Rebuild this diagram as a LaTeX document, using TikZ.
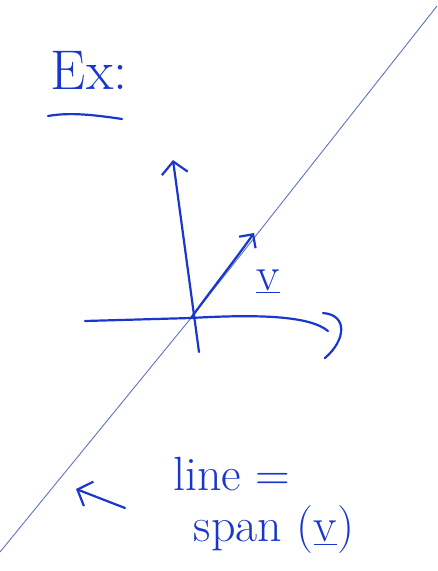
\documentclass[tikz,border=0pt]{standalone}
\usepackage{tikz}
\usetikzlibrary{arrows.meta,positioning}
\definecolor{ink}{RGB}{25,55,205}
\definecolor{pencil}{RGB}{95,115,195}
\tikzset{
  pen/.style      = {ink, line width=2.2pt, line cap=round, line join=round},
  penarrow/.style = {pen, -{Straight Barb[length=12pt,width=26pt]}},
  spanline/.style = {pencil, line width=0.9pt},
  handtext/.style = {ink, inner sep=0pt, font=\fontsize{48}{52}\selectfont}
}
\begin{document}
\begin{tikzpicture}[x=1pt,y=-1pt]
  \useasboundingbox (0,0) rectangle (437,571);
  \coordinate (O)  at (191,318);
  \coordinate (lo) at (0,552);
  \coordinate (hi) at (437,6);
  % the line spanned by v
  \draw[spanline] (lo) -- (O) -- (hi);
  % axes
  \coordinate (xl) at (85,321);
  \coordinate (yb) at (199,352);
  \coordinate (yt) at (173,160);
  \draw[pen] (xl) -- (O) .. controls (260,314) and (310,316) .. (328,331);
  \draw[pen] (323,313) .. controls (348,315) and (346,340) .. (325,358);
  \draw[penarrow] (yb) -- (yt);
  % the vector v
  \coordinate (vt) at (254,233);
  \draw[pen, -{Straight Barb[length=10pt,width=20pt]}] (O) .. controls (215,285) and (235,260) .. (vt);
  \node[handtext] (vlab) at (268,281) {\underline{v}};
  % heading
  \node[handtext, font=\fontsize{56}{60}\selectfont] (ex) at (89,70) {Ex:};
  \draw[pen] (48,116) .. controls (70,112) and (95,115) .. (122,119);
  % caption
  \node[handtext] (cap1) at (232,474) {line =};
  \node[handtext] (cap2) at (274,530) {span (\underline{v})};
  \coordinate (pt) at (125,508);
  \draw[penarrow] (pt) -- (76,489);
\end{tikzpicture}
\end{document}
